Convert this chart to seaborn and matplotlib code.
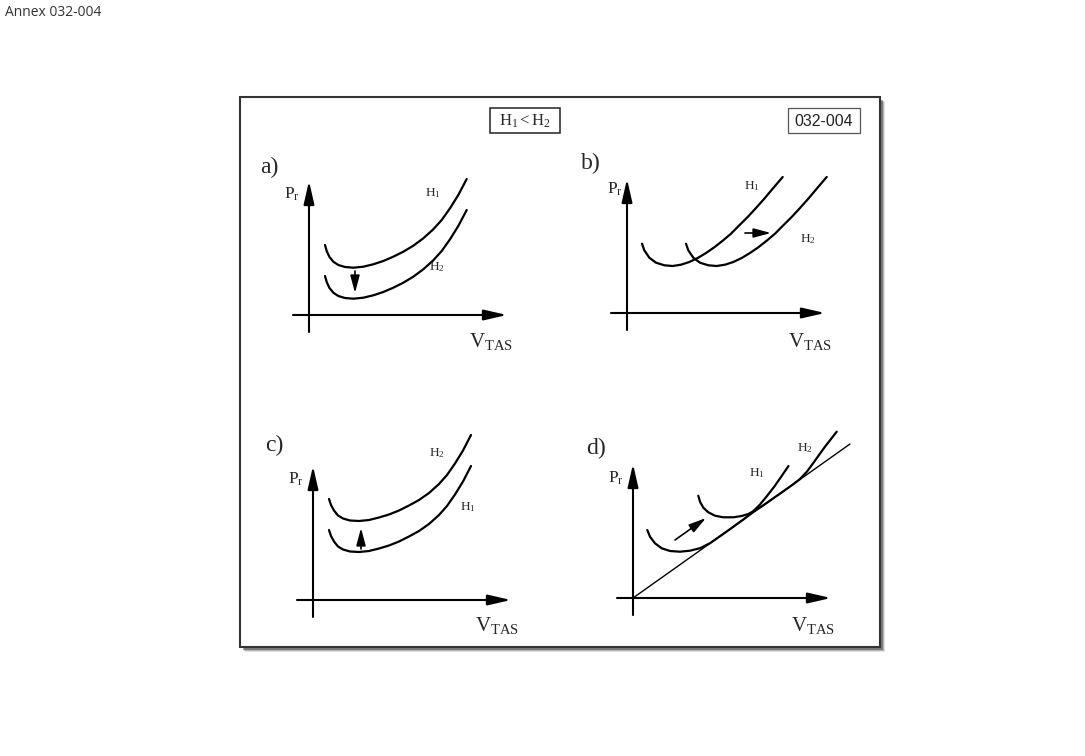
import pandas as pd
import seaborn as sns
import matplotlib.pyplot as plt
from matplotlib.patches import Rectangle

W, H = 1085, 756

# curve readings: V (right of origin) and Pr (above origin), in panel units
a_v = [16, 17.7, 20.3, 24.3, 29.3, 36, 44.3, 54.3, 64.3, 74.3, 84.3, 94.3, 104.3, 114.3,
       124.3, 132.7, 141, 149.3, 157.7]
a_h1 = [70, 64, 58.3, 53.3, 50, 48, 47.3, 48.3, 50.7, 54, 58.3, 63.3, 69.3, 76.7, 85.7, 95,
        106.7, 120, 136]
a_h2 = [39, 33, 27.3, 22.3, 19, 17, 16.3, 17.3, 19.7, 23, 27.3, 32.3, 38.3, 45.7, 54.7, 64,
        75.7, 89, 105]

b_h1_v = [15, 17.3, 22.3, 29, 37.3, 45.7, 54, 62.3, 70.7, 79, 87.3, 95.7, 104, 112.3, 120.7,
          129, 137.3, 145.7, 155.7]
b_h2_v = [59, 61.3, 66.3, 73, 81.3, 89.7, 98, 106.3, 114.7, 123, 131.3, 139.7, 148, 156.3,
          164.7, 173, 181.3, 189.7, 199.7]
b_p = [69.3, 62.7, 55.3, 50.3, 47.7, 47, 48.3, 51, 55, 60, 65.7, 72.3, 79.3, 87.7, 96, 105,
       114.3, 124.3, 136]

c_v = [16, 18, 21, 25, 30, 37, 46, 56, 66, 76, 86, 96, 106, 116, 126, 134, 142, 150, 158]
c_h2 = [101, 95, 89.5, 84.5, 81.5, 79.5, 79, 80, 82.5, 85.5, 89.5, 94.5, 100, 107, 116, 125,
        136.5, 149.5, 165]
c_h1 = [70, 64, 58.5, 53.5, 50.5, 48.5, 48, 49, 51.5, 54.5, 58.5, 63.5, 69, 76, 85, 94,
        105.5, 118.5, 134]

d_h1_v = [14.3, 17, 22, 28.7, 37, 47, 57, 67, 77, 85, 93, 100, 106, 111, 116, 121, 127, 134,
          141, 148, 155.5]
d_h1 = [68, 61.3, 54.7, 49.7, 47, 46.3, 47.3, 49.8, 54.8, 60.4, 66, 71, 75.4, 79, 83, 87.5,
        93.5, 102, 111, 121, 132]
d_h2_v = [65.3, 67, 70.3, 75.3, 82, 90.3, 100.3, 108.7, 115.3, 122, 130, 140, 150, 160, 167,
          174, 180.3, 186, 192, 198, 203.7]
d_h2 = [102.3, 96.3, 90.3, 85.7, 82.3, 80.7, 80.7, 82, 84, 87.5, 92.5, 99.5, 106.5, 113.6,
        119, 126.5, 135, 143, 151.3, 159, 166.3]
d_tan_v = [0, 217]
d_tan = [0, 154]

panel_names = ['a)', 'b)', 'c)', 'd)']

sns.set_style('white')
plt.rcParams['font.family'] = ['Liberation Serif', 'DejaVu Serif']
plt.rcParams['mathtext.fontset'] = 'custom'
plt.rcParams['mathtext.rm'] = 'Liberation Serif'
plt.rcParams['mathtext.it'] = 'Liberation Serif:italic'

fig = plt.figure(figsize=(W / 100, H / 100), dpi=100)

# background in pixel coords: frame, shadow, header boxes
bg = fig.add_axes([0, 0, 1, 1])
bg.set_xlim(0, W)
bg.set_ylim(H, 0)
bg.axis('off')

for off, a in [(5, 0.15), (4, 0.3), (3, 0.5)]:
    bg.add_patch(Rectangle((240 + off, 97 + off), 640, 550, facecolor='#444', alpha=a,
                           edgecolor='none'))
bg.add_patch(Rectangle((240, 97), 640, 550, facecolor='white', edgecolor='#333', lw=1.5))

bg.text(5, 13, 'Annex 032-004', family='Open Sans', fontsize=10, color='#333', va='center')

bg.add_patch(Rectangle((490, 108), 70, 25, facecolor='none', edgecolor='#222', lw=1.1))
bg.text(525, 121, r'$\mathrm{H_1 < H_2}$', fontsize=12, ha='center', va='center')
bg.add_patch(Rectangle((788, 108), 72, 25, facecolor='none', edgecolor='#555', lw=0.9))
bg.text(824, 121, '032-004', family='Liberation Sans', fontsize=11.5, ha='center', va='center',
        color='#222')


def make_panel(ox, oy):
    # one data unit = one pixel, origin on the axis cross
    ax = fig.add_axes([(ox - 70) / W, 1 - (oy + 50) / H, 330 / W, 250 / H])
    ax.set_xlim(-70, 260)
    ax.set_ylim(-50, 200)
    ax.axis('off')
    arrow = dict(arrowstyle='-|>,head_length=0.7,head_width=0.16', lw=1.5, color='black',
                 shrinkA=0, shrinkB=0, mutation_scale=20)
    ax.annotate('', xy=(0, 134), xytext=(0, -17), arrowprops=arrow)
    ax.annotate('', xy=(198, 0), xytext=(-16, 0), arrowprops=arrow)
    return ax


def small_arrow(ax, start, end):
    ax.annotate('', xy=end, xytext=start,
                arrowprops=dict(arrowstyle='-|>,head_length=0.75,head_width=0.2', lw=1.2,
                                color='black', shrinkA=0, shrinkB=0, mutation_scale=14))


def curve(ax, v, p, lw=1.6):
    df = pd.DataFrame({'V': v, 'P': p})
    sns.lineplot(data=df, x='V', y='P', ax=ax, sort=False, estimator=None, color='black',
                 lw=lw, solid_joinstyle='round', solid_capstyle='round')


def labels(ax, name, name_xy, pr_xy, vtas_xy):
    ax.text(*name_xy, name, fontsize=17, ha='center', va='center')
    ax.text(*pr_xy, r'$\mathrm{P_r}$', fontsize=12.5, ha='right', va='center')
    ax.text(*vtas_xy, r'$\mathrm{V_{TAS}}$', fontsize=15, ha='center', va='center')


def hlabel(ax, xy, s):
    ax.text(*xy, r'$\mathrm{H_%s}$' % s, fontsize=9.5, ha='center', va='center')


# a)
ax = make_panel(309, 315)
curve(ax, a_v, a_h1)
curve(ax, a_v, a_h2)
small_arrow(ax, (46, 44), (46, 22))
labels(ax, panel_names[0], (-40, 148), (-9, 121), (182, -26))
hlabel(ax, (124, 122), '1')
hlabel(ax, (128, 48), '2')

# b)
ax = make_panel(627, 313)
curve(ax, b_h1_v, b_p)
curve(ax, b_h2_v, b_p)
small_arrow(ax, (118, 80), (144, 80))
labels(ax, panel_names[1], (-36, 150), (-4, 124), (183, -28))
hlabel(ax, (125, 127), '1')
hlabel(ax, (181, 74), '2')

# c)
ax = make_panel(313, 600)
curve(ax, c_v, c_h2)
curve(ax, c_v, c_h1)
small_arrow(ax, (48, 51), (48, 72))
labels(ax, panel_names[2], (-39, 155), (-9, 121), (184, -25))
hlabel(ax, (124, 147), '2')
hlabel(ax, (155, 93), '1')

# d)
ax = make_panel(633, 598)
curve(ax, d_tan_v, d_tan, lw=1.0)
curve(ax, d_h1_v, d_h1)
curve(ax, d_h2_v, d_h2)
small_arrow(ax, (42, 58), (73, 80))
labels(ax, panel_names[3], (-37, 150), (-9, 120), (180, -27))
hlabel(ax, (124, 125), '1')
hlabel(ax, (172, 150), '2')

fig.savefig('out.png', dpi=100, facecolor='white')
